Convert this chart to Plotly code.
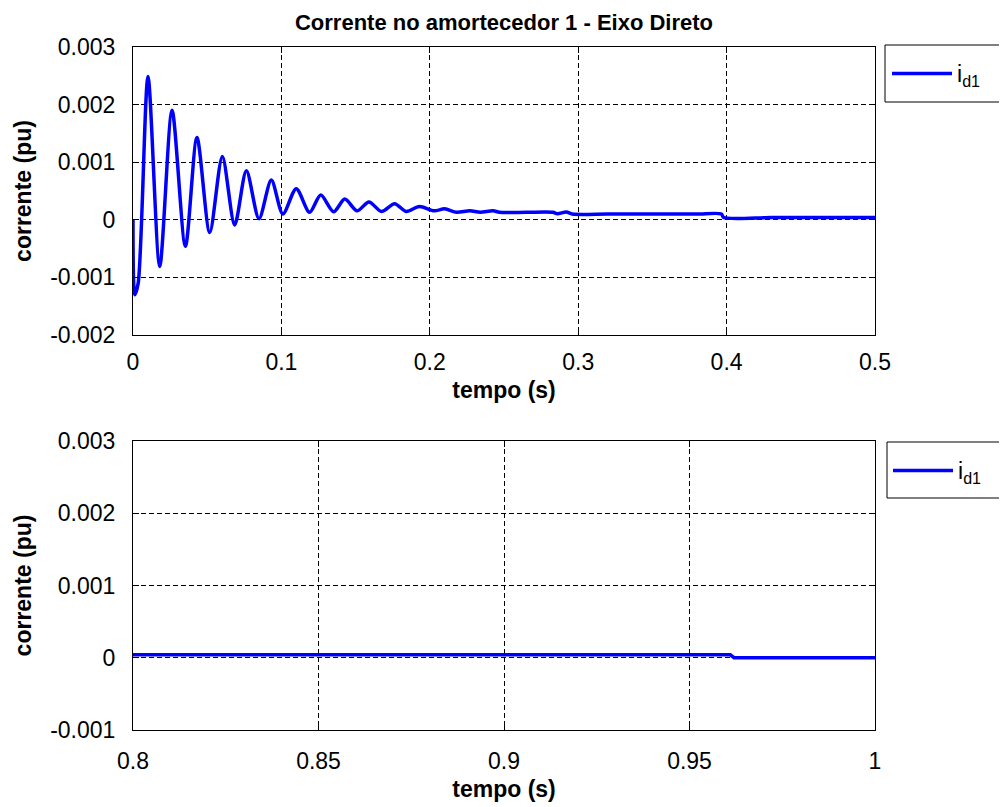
import plotly.graph_objects as go

# ---- data ----
tempo = [0, 0.0012, 0.0035, 0.0101, 0.018, 0.0263, 0.0353, 0.0431, 0.0517, 0.0602,
         0.0685, 0.0764, 0.0849, 0.0932, 0.101, 0.110, 0.119, 0.1265, 0.1352, 0.1427,
         0.151, 0.159, 0.1674, 0.1763, 0.184, 0.193, 0.203, 0.210, 0.218, 0.227,
         0.234, 0.2426, 0.247, 0.265, 0.283, 0.286, 0.292, 0.296, 0.32, 0.35,
         0.38, 0.3965, 0.398, 0.43, 0.46, 0.49, 0.961, 0.962, 1.0]
i_d1 = [0, -0.0013, -0.0011, 0.00249, -0.00081, 0.0019, -0.00046, 0.00143, -0.00022, 0.0011,
        -0.00009, 0.00085, 0.00002, 0.00069, 0.0001, 0.00054, 0.00013, 0.00043, 0.00014, 0.00036,
        0.000156, 0.00031, 0.000145, 0.00028, 0.000145, 0.00023, 0.000156, 0.00019, 0.00013, 0.000156,
        0.00013, 0.000156, 0.00013, 0.00013, 0.00013, 0.000104, 0.000136, 0.0001, 0.0001, 0.0001,
        0.0001, 0.0001, 0.00004, 0.00004, 0.00004, 0.00004, 0.00004, 0.0, 0.0]

x1_ticks = [0, 0.1, 0.2, 0.3, 0.4, 0.5]
x1_labels = ["0", "0.1", "0.2", "0.3", "0.4", "0.5"]
y1_ticks = [-0.002, -0.001, 0, 0.001, 0.002, 0.003]
y1_labels = ["-0.002", "-0.001", "0", "0.001", "0.002", "0.003"]
x2_ticks = [0.8, 0.85, 0.9, 0.95, 1.0]
x2_labels = ["0.8", "0.85", "0.9", "0.95", "1"]
y2_ticks = [-0.001, 0, 0.001, 0.002, 0.003]
y2_labels = ["-0.001", "0", "0.001", "0.002", "0.003"]

title_text = "Corrente no amortecedor 1 - Eixo Direto"
x_title = "tempo (s)"
y_title = "corrente (pu)"
series_name = "i<sub>d1</sub>"

FONT = "Liberation Sans, Arial, sans-serif"
W, H = 999, 799   # page body has an 8px margin
OFF = 8

def fx(px):
    return (px - OFF) / W

def fy(py):
    return 1 - (py - OFF) / H

fig = go.Figure()
fig.add_trace(go.Scatter(x=tempo, y=i_d1, mode="lines", name=series_name, showlegend=True,
                         line=dict(color="#0000FF", width=3.5, shape="spline", smoothing=0.8),
                         xaxis="x", yaxis="y", legend="legend"))
fig.add_trace(go.Scatter(x=tempo, y=i_d1, mode="lines", name=series_name, showlegend=True,
                         line=dict(color="#0000FF", width=3.5),
                         xaxis="x2", yaxis="y2", legend="legend2"))

def ax(**kw):
    d = dict(showline=True, linecolor="black", linewidth=1, mirror="ticks",
             ticks="inside", ticklen=6, tickcolor="black",
             showgrid=True, gridcolor="black", gridwidth=1, griddash="5px,3px",
             zeroline=False, automargin=False,
             tickfont=dict(family=FONT, size=23, color="black"))
    d.update(kw)
    return d

def leg(x, y):
    return dict(x=x, y=y, xanchor="left", yanchor="top", itemwidth=60,
                bordercolor="black", borderwidth=0, bgcolor="rgba(0,0,0,0)",
                font=dict(family=FONT, size=23, color="black"))

xdom = [fx(133), fx(875)]
fig.update_layout(
    width=W, height=H, autosize=False, showlegend=True,
    margin=dict(l=0, r=0, t=0, b=0),
    paper_bgcolor="white", plot_bgcolor="white",
    title=dict(text="<b>" + title_text + "</b>", x=fx(504), xanchor="center",
               y=fy(22), yanchor="middle", xref="paper", yref="paper",
               font=dict(family=FONT, size=22, color="black")),
    xaxis=ax(domain=xdom, anchor="y", range=[0, 0.5], tickvals=x1_ticks, ticktext=x1_labels,
             ticklabelstandoff=6,
             title=dict(text="<b>" + x_title + "</b>", standoff=8,
                        font=dict(family=FONT, size=23, color="black"))),
    yaxis=ax(domain=[fy(335), fy(47)], anchor="x", range=[-0.002, 0.003],
             tickvals=y1_ticks, ticktext=y1_labels, ticklabelstandoff=12,
             title=dict(text="<b>" + y_title + "</b>", standoff=12,
                        font=dict(family=FONT, size=23, color="black"))),
    xaxis2=ax(domain=xdom, anchor="y2", range=[0.8, 1.0], tickvals=x2_ticks, ticktext=x2_labels,
              ticklabelstandoff=10,
              title=dict(text="<b>" + x_title + "</b>", standoff=8,
                         font=dict(family=FONT, size=23, color="black"))),
    yaxis2=ax(domain=[fy(730), fy(441)], anchor="x2", range=[-0.001, 0.003],
              tickvals=y2_ticks, ticktext=y2_labels, ticklabelstandoff=12,
              title=dict(text="<b>" + y_title + "</b>", standoff=12,
                         font=dict(family=FONT, size=23, color="black"))),
    legend=leg(fx(887), fy(52)),
    legend2=leg(fx(888), fy(449)),
    shapes=[
        dict(type="rect", xref="paper", yref="paper", x0=fx(885), x1=fx(1005),
             y0=fy(102), y1=fy(45), line=dict(color="black", width=1), fillcolor="white",
             layer="below"),
        dict(type="rect", xref="paper", yref="paper", x0=fx(887), x1=fx(1005),
             y0=fy(498), y1=fy(442), line=dict(color="black", width=1), fillcolor="white",
             layer="below"),
    ],
)

fig.write_html("out.html")
